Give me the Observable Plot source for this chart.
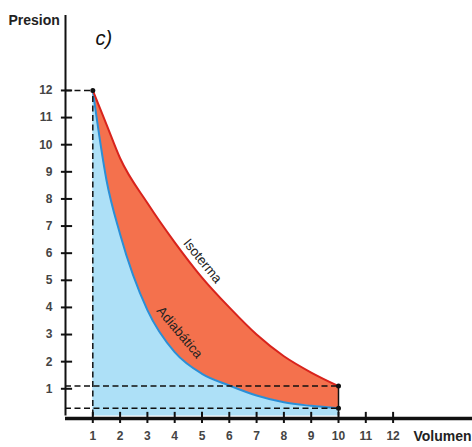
<!DOCTYPE html>
<html>
<head>
<meta charset="utf-8">
<script src="https://cdn.jsdelivr.net/npm/d3@7"></script>
<script src="https://cdn.jsdelivr.net/npm/@observablehq/plot@0.6"></script>
<style>
  body { margin: 0; background: #fff; }
</style>
</head>
<body>
<div id="chart"></div>
<script>
// Volumen values sampled along the curves
const volumen = [1, 1.5, 2, 3, 4, 5, 6, 7, 8, 9, 10];
// Isoterma (red) pressure values
const isoterma = [12, 10.75, 9.5, 7.85, 6.4, 5.1, 4.0, 3.0, 2.2, 1.6, 1.1];
// Adiabática (blue) pressure values
const adiabatica = [12, 8.7, 6.7, 3.9, 2.35, 1.55, 1.12, 0.75, 0.5, 0.37, 0.28];
// Tick labels
const xTicks = [1, 2, 3, 4, 5, 6, 7, 8, 9, 10, 11, 12];
const yTicks = [1, 2, 3, 4, 5, 6, 7, 8, 9, 10, 11, 12];

const data = volumen.map((v, i) => ({v, iso: isoterma[i], adi: adiabatica[i]}));
const first = data[0];
const last = data[data.length - 1];

const W = 472, H = 447;
const mL = 65, mR = 0, mT = 15, mB = 31.6;
const xMax = (W - mL - mR) / 27.3;
const yMax = (H - mT - mB) / 27.12;
const curve = "monotone-x";
const dash = "6,3.5";
const font = "Liberation Sans, Arial, sans-serif";

const chart = Plot.plot({
  width: W,
  height: H,
  marginLeft: mL,
  marginRight: mR,
  marginTop: mT,
  marginBottom: mB,
  x: {domain: [0, xMax], axis: null},
  y: {domain: [0, yMax], axis: null},
  style: {fontFamily: font, background: "#fff", overflow: "visible"},
  marks: [
    Plot.areaY(data, {x: "v", y1: 0, y2: "adi", fill: "#ade0f7", curve}),
    Plot.areaY(data, {x: "v", y1: "adi", y2: "iso", fill: "#f4714d", curve}),
    Plot.line(data, {x: "v", y: "adi", stroke: "#2a8fd7", strokeWidth: 2, curve}),
    Plot.line(data, {x: "v", y: "iso", stroke: "#d8231c", strokeWidth: 2, curve}),
    // dashed guide lines
    Plot.ruleY([first.iso], {x1: 0, x2: first.v, stroke: "#111", strokeWidth: 1.5, strokeDasharray: dash}),
    Plot.ruleX([first.v], {y1: 0, y2: first.iso, stroke: "#111", strokeWidth: 1.5, strokeDasharray: dash}),
    Plot.ruleY([last.iso, last.adi], {x1: 0, x2: last.v, stroke: "#111", strokeWidth: 1.5, strokeDasharray: dash}),
    Plot.ruleX([last.v], {y1: 0, y2: last.iso, stroke: "#111", strokeWidth: 1.5}),
    Plot.dot([[first.v, first.iso], [last.v, last.iso], [last.v, last.adi]], {x: d => d[0], y: d => d[1], r: 2.5, fill: "#111", stroke: null}),
    // axes
    Plot.ruleX([0], {y1: 0, y2: yMax, stroke: "#111", strokeWidth: 2}),
    Plot.ruleY([0], {x1: 0, x2: xMax, stroke: "#111", strokeWidth: 3.5, dy: 2.5}),
    Plot.ruleY(yTicks, {x1: -0.15, x2: 0.26, stroke: "#111", strokeWidth: 2}),
    Plot.ruleX(xTicks, {y1: -0.28, y2: 0.13, stroke: "#111", strokeWidth: 2}),
    Plot.text(yTicks, {x: 0, y: d => d, dx: -13, textAnchor: "end", fontSize: 12, fontWeight: "bold", fill: "#444"}),
    Plot.text(xTicks, {x: d => d, y: 0, dy: 20, fontSize: 12, fontWeight: "bold", fill: "#444"}),
    // curve labels
    Plot.text(["Isoterma"], {x: 4.91, y: 5.62, dx: 3, dy: -2.5, rotate: 51, fontSize: 13.5, fill: "#222"}),
    Plot.text(["Adiabática"], {x: 4.18, y: 3.08, rotate: 50, fontSize: 13.5, fill: "#222"}),
    // titles
    Plot.text(["Presion"], {frameAnchor: "top-left", dx: -57, dy: 0, textAnchor: "start", fontSize: 14, fontWeight: "bold", fill: "#222"}),
    Plot.text(["c)"], {frameAnchor: "top-left", dx: 30, dy: 15, textAnchor: "start", fontSize: 20, fontStyle: "italic", fill: "#111"}),
    Plot.text(["Volumen"], {frameAnchor: "bottom-right", dx: -1, dy: 25, textAnchor: "end", fontSize: 14, fontWeight: "bold", fill: "#222"})
  ]
});
document.getElementById("chart").appendChild(chart);
</script>
</body>
</html>
